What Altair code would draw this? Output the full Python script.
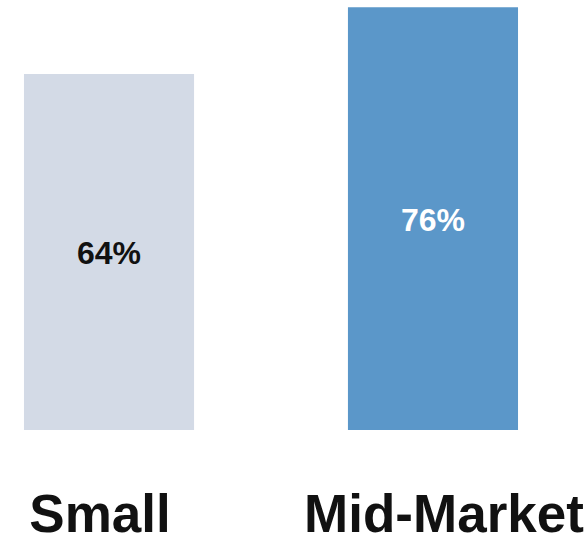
import altair as alt
import pandas as pd

categories = ["Small", "Mid-Market"]
values = [64, 76]
bar_colors = ["#D3DAE6", "#5B97C9"]
text_colors = ["#111111", "#FFFFFF"]

df = pd.DataFrame({"segment": categories, "value": values,
                   "label": [f"{v}%" for v in values]})

FONT = "Liberation Sans"

x = alt.X("segment:N", sort=categories, title=None,
          scale=alt.Scale(paddingInner=0.475, paddingOuter=0.074),
          axis=alt.Axis(labelAngle=0, labelFontSize=53, labelFontWeight="bold",
                        labelFont=FONT, labelColor="#111111", labelPadding=59,
                        labelLimit=0, labelOverlap=False,
                        ticks=False, domain=False, grid=False,
                        labelOffset=alt.ExprRef("datum.value == 'Small' ? -9 : 11")))

bars = alt.Chart(df).mark_bar().encode(
    x=x,
    y=alt.Y("value:Q", scale=alt.Scale(domain=[0, 77.3], nice=False, zero=True),
            axis=None),
    color=alt.Color("segment:N", scale=alt.Scale(domain=categories, range=bar_colors),
                    legend=None),
)

texts = alt.Chart(df).transform_calculate(mid="datum.value / 2").mark_text(
    fontSize=32, fontWeight="bold", font=FONT, baseline="middle", align="center", dy=2
).encode(
    x=alt.X("segment:N", sort=categories),
    y=alt.Y("mid:Q"),
    text="label:N",
    color=alt.Color("segment:N", scale=alt.Scale(domain=categories, range=text_colors),
                    legend=None),
)

chart = alt.layer(bars, texts).resolve_scale(color="independent").properties(
    width=542, height=430,
    padding={"left": 0, "top": 0, "right": 43, "bottom": 104},
    autosize=alt.AutoSizeParams(type="none"),
    background="#FFFFFF"
).configure_view(stroke=None)

chart.save("out.html", embed_options={"renderer": "svg", "actions": False})
